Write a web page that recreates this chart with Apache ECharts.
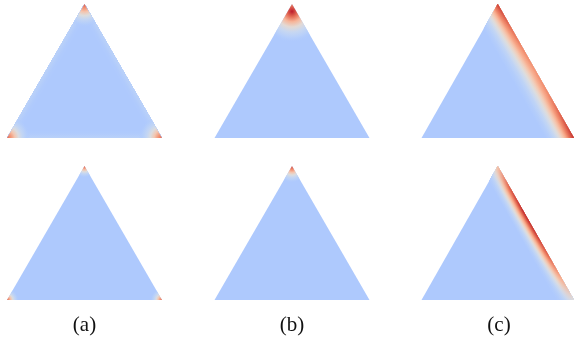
<!DOCTYPE html>
<html>
<head>
<meta charset="utf-8">
<script src="https://cdn.jsdelivr.net/npm/echarts@6/dist/echarts.min.js"></script>
<style>
  html, body { margin: 0; padding: 0; background: #fff; }
  #main { width: 574px; height: 337px; }
</style>
</head>
<body>
<div id="main"></div>
<script>
'use strict';
var panelLabels = ['(a)', '(b)', '(c)'];

// unit equilateral triangle: left, right, top
var triX = [0, 1, 0.5];
var triY = [0, 0, 0.866];

// coolwarm scalar of the plain triangle body
var baseValue = 0.345;

// hot spots [x, y, value] in triangle units
var spotsTopA = [[0, 0, 0.86], [1, 0, 0.86], [0.5, 0.866, 0.88]];
var spotsBotA = [[0, 0, 0.86], [1, 0, 0.86], [0.5, 0.866, 0.88]];
var spotsTopB = [[0.5, 0.818, 0.98]];
var spotsBotB = [[0.5, 0.858, 0.88]];

// value along the right edge of (c), apex -> base corner
var edgeTopC = [0.94, 0.86, 0.8, 0.77, 0.8, 0.88, 0.96];
var edgeBotC = [0.64, 0.9, 0.98, 0.96, 0.88, 0.72, 0.5];

// faint light rim on all edges of top (a)
var rimTopA = [0.38, 0.38];

// how the heat fades from its peak, 0 .. 1 of the spread
var falloff = [1, 0.8, 0.52, 0.28, 0.12, 0.04, 0];

var coolwarm = [[59,76,192],[68,90,204],[77,104,215],[87,117,225],[98,130,234],[108,142,241],
  [119,154,247],[130,165,251],[141,176,254],[152,185,255],[163,194,255],[174,201,253],
  [184,208,249],[194,213,244],[204,217,238],[213,219,230],[221,221,221],[229,216,209],
  [236,211,197],[241,204,184],[245,196,172],[247,187,160],[247,177,148],[247,166,135],
  [244,154,123],[241,141,111],[236,127,99],[229,112,88],[222,96,77],[213,80,66],
  [203,62,56],[192,40,47],[180,4,38]];

function cmap(v, alpha) {
  v = Math.max(0, Math.min(1, v)) * (coolwarm.length - 1);
  var i = Math.min(Math.floor(v), coolwarm.length - 2), t = v - i;
  var a = coolwarm[i], b = coolwarm[i + 1];
  var c = [0, 1, 2].map(function (k) { return Math.round(a[k] + (b[k] - a[k]) * t); });
  return 'rgba(' + c.join(',') + ',' + (alpha == null ? 1 : alpha) + ')';
}

function fade(t) {
  var p = t * (falloff.length - 1);
  var i = Math.min(Math.floor(p), falloff.length - 2);
  return falloff[i] + (falloff[i + 1] - falloff[i]) * (p - i);
}

// bands parallel to edge a-b (c = opposite vertex), widest first so no seams show
function edgeBand(children, a, b, c, profile, width, api) {
  var h = triY[2], n = 24;
  var pa = api.coord(a), pb = api.coord(b);
  for (var k = n - 1; k >= 0; k--) {
    var t = width * (k + 1) / n / h;
    var qa = [a[0] + (c[0] - a[0]) * t, a[1] + (c[1] - a[1]) * t];
    var qb = [b[0] + (c[0] - b[0]) * t, b[1] + (c[1] - b[1]) * t];
    var f = fade((k + 0.5) / n);
    var stops = profile.map(function (v, i) {
      return { offset: i / (profile.length - 1), color: cmap(baseValue + (v - baseValue) * f) };
    });
    children.push({
      type: 'polygon',
      shape: { points: [pa, pb, api.coord(qb), api.coord(qa)] },
      style: { fill: { type: 'linear', x: pa[0], y: pa[1], x2: pb[0], y2: pb[1], global: true, colorStops: stops } }
    });
  }
}

function spot(children, tri, s, radius, api) {
  var pc = api.coord([s[0], s[1]]);
  var rpx = api.coord([s[0] + radius, s[1]])[0] - pc[0];
  var stops = falloff.map(function (f, i) {
    var last = i === falloff.length - 1;
    return { offset: i / (falloff.length - 1), color: cmap(baseValue + (s[2] - baseValue) * f, last ? 0 : 1) };
  });
  children.push({
    type: 'polygon',
    shape: { points: tri },
    style: { fill: { type: 'radial', x: pc[0], y: pc[1], r: rpx, global: true, colorStops: stops } }
  });
}

var panels = [
  { left: 7, top: 4, spots: spotsTopA, spotR: 0.15, rim: rimTopA, rimW: 0.05 },
  { left: 214.5, top: 4, spots: spotsTopB, spotR: 0.2 },
  { left: 421.5, top: 4, edge: edgeTopC, edgeW: 0.16 },
  { left: 7, top: 166, spots: spotsBotA, spotR: 0.075 },
  { left: 214.5, top: 166, spots: spotsBotB, spotR: 0.1 },
  { left: 421.5, top: 166, edge: edgeBotC, edgeW: 0.1 }
];
var panelW = 155, panelH = 134;

function makeRender(p) {
  return function (params, api) {
    var L = [triX[0], triY[0]], R = [triX[1], triY[1]], T = [triX[2], triY[2]];
    var tri = [api.coord(L), api.coord(R), api.coord(T)];
    var children = [{ type: 'polygon', shape: { points: tri }, style: { fill: cmap(baseValue) } }];
    if (p.rim) {
      edgeBand(children, L, R, T, p.rim, p.rimW, api);
      edgeBand(children, R, T, L, p.rim, p.rimW, api);
      edgeBand(children, T, L, R, p.rim, p.rimW, api);
    }
    if (p.edge) edgeBand(children, T, R, L, p.edge, p.edgeW, api);
    (p.spots || []).forEach(function (s) { spot(children, tri, s, p.spotR, api); });
    return { type: 'group', children: children };
  };
}

var option = {
  animation: false,
  grid: [], xAxis: [], yAxis: [], series: [],
  graphic: panelLabels.map(function (txt, i) {
    return {
      type: 'text', x: panels[i].left + panelW / 2, y: 325,
      style: { text: txt, font: '21px "Liberation Serif", "Times New Roman", serif', fill: '#111',
        align: 'center', verticalAlign: 'middle' }
    };
  })
};

panels.forEach(function (p, i) {
  option.grid.push({ left: p.left, top: p.top, width: panelW, height: panelH });
  option.xAxis.push({ gridIndex: i, type: 'value', min: 0, max: 1, show: false });
  option.yAxis.push({ gridIndex: i, type: 'value', min: 0, max: triY[2], show: false });
  option.series.push({
    type: 'custom', xAxisIndex: i, yAxisIndex: i, silent: true, clip: false,
    renderItem: makeRender(p), data: [[0.5, 0.4]]
  });
});

var chart = echarts.init(document.getElementById('main'), null, { renderer: 'canvas' });
chart.setOption(option);
window.addEventListener('resize', function () { chart.resize(); });
</script>
</body>
</html>
